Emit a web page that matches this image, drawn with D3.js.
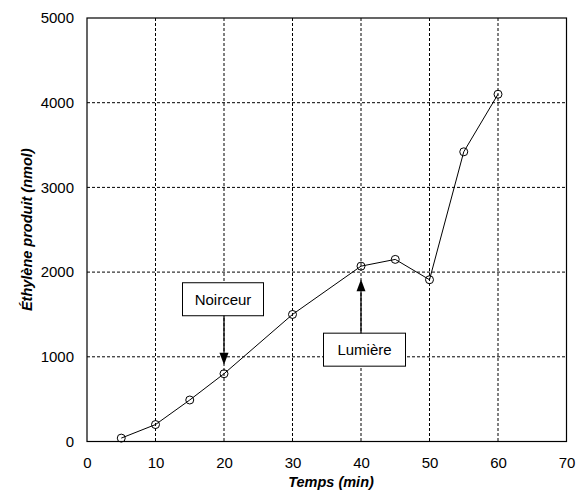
<!DOCTYPE html>
<html>
<head>
<meta charset="utf-8">
<script src="https://cdn.jsdelivr.net/npm/d3@7"></script>
<style>
  body { margin: 0; background: #fff; }
  svg { display: block; font-family: "Liberation Sans", Arial, sans-serif; }
</style>
</head>
<body>
<svg id="chart" width="584" height="495"></svg>
<script>
const times = [5, 10, 15, 20, 30, 40, 45, 50, 55, 60];
const ethylene = [40, 200, 490, 800, 1500, 2070, 2150, 1910, 3420, 4100];
const xTicks = [0, 10, 20, 30, 40, 50, 60, 70];
const yTicks = [0, 1000, 2000, 3000, 4000, 5000];
const notes = [
  { label: "Noirceur", t: 20, v: 800, dir: "down" },
  { label: "Lumière", t: 40, v: 2070, dir: "up" }
];

const svg = d3.select("#chart");
const plotL = 87, plotR = 566.5, plotT = 18, plotB = 441.5;
const fs = 15;

const x = d3.scaleLinear().domain([0, 70]).range([plotL, plotR]);
const y = d3.scaleLinear().domain([0, 5000]).range([plotB, plotT]);

// grid
svg.append("g")
  .selectAll("line")
  .data(xTicks.slice(1, -1))
  .join("line")
  .attr("x1", d => x(d)).attr("x2", d => x(d))
  .attr("y1", plotT).attr("y2", plotB)
  .attr("stroke", "#000").attr("stroke-width", 1)
  .attr("stroke-dasharray", "3,2");

svg.append("g")
  .selectAll("line")
  .data(yTicks.slice(1, -1))
  .join("line")
  .attr("x1", plotL).attr("x2", plotR)
  .attr("y1", d => y(d)).attr("y2", d => y(d))
  .attr("stroke", "#000").attr("stroke-width", 1)
  .attr("stroke-dasharray", "3,2");

// frame
svg.append("rect")
  .attr("x", plotL).attr("y", plotT)
  .attr("width", plotR - plotL).attr("height", plotB - plotT)
  .attr("fill", "none").attr("stroke", "#000").attr("stroke-width", 1.2);

// axes
const xAxis = svg.append("g")
  .attr("transform", `translate(0,${plotB})`)
  .call(d3.axisBottom(x).tickValues(xTicks).tickSize(0).tickPadding(16));
const yAxis = svg.append("g")
  .attr("transform", `translate(${plotL},0)`)
  .call(d3.axisLeft(y).tickValues(yTicks).tickFormat(d3.format("d")).tickSize(0).tickPadding(13));
[xAxis, yAxis].forEach(g => {
  g.select(".domain").remove();
  g.attr("font-size", fs).attr("font-family", "Liberation Sans, Arial, sans-serif");
  g.selectAll("text").attr("fill", "#000");
});

// axis titles
svg.append("text")
  .attr("x", 331).attr("y", 487)
  .attr("text-anchor", "middle")
  .attr("font-size", 14.5).attr("font-weight", "bold").attr("font-style", "italic")
  .text("Temps (min)");

svg.append("text")
  .attr("transform", `translate(32,${(plotT + plotB) / 2}) rotate(-90)`)
  .attr("text-anchor", "middle")
  .attr("font-size", 14.5).attr("font-weight", "bold").attr("font-style", "italic")
  .text("Éthylène produit (nmol)");

// data line
const pts = times.map((t, i) => [t, ethylene[i]]);
svg.append("path")
  .datum(pts)
  .attr("d", d3.line().x(d => x(d[0])).y(d => y(d[1])))
  .attr("fill", "none").attr("stroke", "#000").attr("stroke-width", 1);

svg.append("g")
  .selectAll("circle")
  .data(pts)
  .join("circle")
  .attr("cx", d => x(d[0])).attr("cy", d => y(d[1]))
  .attr("r", 4)
  .attr("fill", "none").attr("stroke", "#000").attr("stroke-width", 1);

// annotations
notes.forEach(n => {
  const cx = x(n.t);
  const py = y(n.v);
  const g = svg.append("g");
  let boxTop, lineFrom, tip;
  if (n.dir === "down") {
    boxTop = py - 91;
    lineFrom = boxTop + 33;
    tip = py - 9;
  } else {
    boxTop = py + 67;
    lineFrom = boxTop;
    tip = py + 13;
  }
  const bw = n.dir === "down" ? 81 : 82, bh = 33;
  const bx = cx - (n.dir === "down" ? 41.5 : 37.5);
  g.append("rect")
    .attr("x", bx).attr("y", boxTop)
    .attr("width", bw).attr("height", bh)
    .attr("fill", "#fff").attr("stroke", "#000").attr("stroke-width", 1);
  g.append("text")
    .attr("x", bx + bw / 2).attr("y", boxTop + bh / 2 + 5.5)
    .attr("text-anchor", "middle").attr("font-size", fs)
    .text(n.label);
  const headLen = 12, headW = 4.5;
  const s = n.dir === "down" ? 1 : -1;
  g.append("line")
    .attr("x1", cx).attr("x2", cx)
    .attr("y1", lineFrom).attr("y2", tip - s * headLen)
    .attr("stroke", "#000").attr("stroke-width", 1.3);
  g.append("path")
    .attr("d", `M${cx},${tip} L${cx - headW},${tip - s * headLen} L${cx + headW},${tip - s * headLen} Z`)
    .attr("fill", "#000");
});
</script>
</body>
</html>
